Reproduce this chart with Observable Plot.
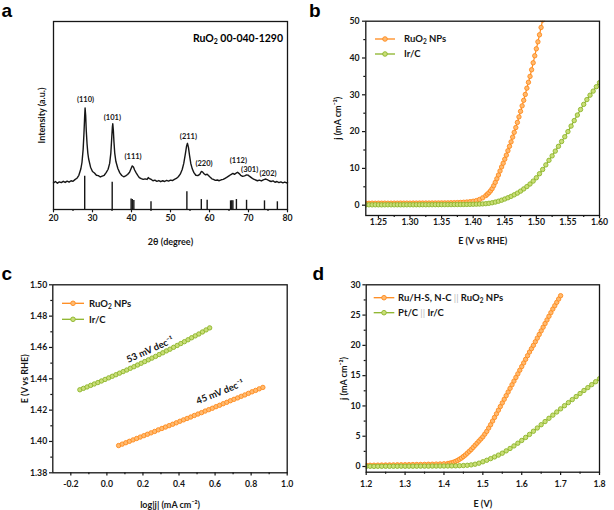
<!DOCTYPE html>
<html><head><meta charset="utf-8">
<script src="https://cdn.jsdelivr.net/npm/d3@7"></script>
<script src="https://cdn.jsdelivr.net/npm/@observablehq/plot@0.6"></script>
<style>
body{margin:0;background:#fff;}
#wrap{position:relative;width:614px;height:510px;font-family:Lato,"Open Sans",sans-serif;font-weight:bold;}
.panel{position:absolute;}
#overlay{position:absolute;left:0;top:0;pointer-events:none;}
</style></head><body>
<div id="wrap">
<div class="panel" id="pa" style="left:0;top:0"></div>
<div class="panel" id="pb" style="left:307px;top:0"></div>
<div class="panel" id="pc" style="left:0;top:255px"></div>
<div class="panel" id="pd" style="left:307px;top:255px"></div>
<svg id="overlay" width="614" height="510" font-family="Lato, 'Open Sans', sans-serif" font-weight="bold">
  <g font-family="'Liberation Sans', Arial, sans-serif" font-size="19" font-weight="bold">
    <text x="1.5" y="17.3">a</text>
    <text x="309" y="17.3">b</text>
    <text x="1.5" y="280">c</text>
    <text x="312.5" y="280">d</text>
  </g>
  <text x="283" y="41.5" text-anchor="end" font-size="10.5">RuO<tspan font-size="7" dy="2.5">2</tspan><tspan dy="-2.5"> 00-040-1290</tspan></text>
  <g id="legB"></g><g id="legC"></g><g id="legD"></g>
</svg>
</div>
<script>
// ---------- Panel a: XRD ----------
const xrd = [[20.0,14.2],[20.5,14.9],[21.0,14.0],[21.5,14.7],[22.0,14.3],[22.5,15.0],[23.0,14.4],[23.5,15.1],[24.0,14.6],[24.5,15.3],[25.0,15.0],[25.5,15.9],[26.0,16.6],[26.5,18.2],[27.0,21.5],[27.3,25],[27.6,32],[27.8,40],[28.0,50],[28.1,54],[28.25,50],[28.4,42],[28.6,35],[28.8,30],[29.0,27],[29.5,22.5],[30.0,20.2],[30.5,19.4],[31.0,18.2],[31.5,18.0],[32.0,17.3],[32.5,17.8],[33.0,18.2],[33.5,19.6],[34.0,21.4],[34.4,24.5],[34.7,30],[34.9,37],[35.1,44],[35.2,45.6],[35.35,42],[35.5,36],[35.7,30],[36.0,25.5],[36.5,21.8],[37.0,19.5],[37.5,18.1],[38.0,17.4],[38.5,17.9],[39.0,18.6],[39.5,19.8],[39.9,21.8],[40.2,23.2],[40.5,22.6],[40.8,21.0],[41.2,19.5],[41.6,18.2],[42.0,17.0],[42.5,16.4],[43.0,16.0],[43.5,16.3],[44.0,16.0],[44.3,17.0],[44.6,16.4],[45.0,16.1],[45.5,15.3],[46.0,15.6],[46.5,15.0],[47.0,15.4],[47.5,14.8],[48.0,15.3],[48.5,14.9],[49.0,15.5],[49.5,15.1],[50.0,15.6],[50.5,15.4],[51.0,16.0],[51.5,16.5],[52.0,17.4],[52.5,18.8],[53.0,21.3],[53.4,24.5],[53.8,29.5],[54.1,33.5],[54.35,35.2],[54.6,33],[54.9,28.5],[55.2,24.5],[55.6,21.5],[56.0,19.6],[56.5,18.2],[57.0,18.0],[57.5,18.7],[57.9,20.2],[58.2,20.0],[58.6,19.0],[59.0,18.4],[59.4,18.8],[59.8,18.0],[60.2,17.1],[60.6,16.3],[61.0,16.0],[61.5,15.5],[62.0,15.7],[62.5,15.3],[63.0,15.8],[63.5,16.0],[64.0,16.6],[64.5,17.2],[65.0,17.9],[65.5,18.6],[66.0,19.2],[66.4,18.7],[66.8,19.3],[67.2,19.8],[67.6,19.1],[68.0,18.2],[68.5,17.6],[69.0,17.9],[69.5,18.4],[69.9,18.3],[70.3,17.6],[70.8,16.8],[71.3,16.2],[71.8,15.7],[72.3,15.3],[72.8,15.6],[73.3,15.2],[73.8,15.8],[74.3,16.2],[74.8,15.9],[75.3,15.3],[75.8,14.9],[76.3,15.2],[76.8,14.5],[77.3,14.9],[77.8,14.3],[78.3,14.7],[78.8,14.2],[79.3,14.6],[79.8,14.1],[80.0,14.3]];
const refTheta = [28.0,35.05,39.9,40.2,40.6,45.0,54.2,57.9,59.4,65.4,65.7,66.0,66.9,69.5,74.1,77.4];
const refInt   = [17.7,14.5,5.6,5.3,4.8,4.1,9.4,5.3,4.9,4.6,4.6,4.6,5.3,4.9,4.6,4.1];
const peakHkl   = ["(110)","(101)","(111)","(211)","(220)","(112)","(301)","(202)"];
const peakTheta = [28.2,35.1,40.4,54.6,58.6,67.4,70.3,75.0];
const peakY     = [58.3,48.8,27.9,38.9,24.4,26.0,21.0,19.3];
const aTicksX = [20,30,40,50,60,70,80];
const aMinorX = [25,35,45,55,65,75];

// ---------- Panel b: LSV OER ----------
const bRuO2 = [[1.230,0.55],[1.235,0.52],[1.240,0.55],[1.245,0.53],[1.250,0.55],[1.255,0.54],[1.260,0.56],[1.265,0.54],[1.270,0.55],[1.275,0.56],[1.280,0.55],[1.285,0.57],[1.290,0.56],[1.295,0.57],[1.300,0.56],[1.305,0.58],[1.310,0.57],[1.315,0.58],[1.320,0.58],[1.325,0.59],[1.330,0.59],[1.335,0.60],[1.340,0.60],[1.345,0.61],[1.350,0.62],[1.355,0.63],[1.360,0.64],[1.365,0.66],[1.370,0.68],[1.375,0.71],[1.380,0.75],[1.385,0.80],[1.390,0.86],[1.395,0.95],[1.400,1.07],[1.405,1.25],[1.410,1.55],[1.415,2.00],[1.4200,2.6],[1.4225,3.0],[1.4250,3.4],[1.4275,3.9],[1.4300,4.5],[1.4325,5.3],[1.4350,6.2],[1.4375,7.2],[1.4400,8.2],[1.4425,9.3],[1.4450,10.4],[1.4475,11.4],[1.4500,12.5],[1.4525,13.6],[1.4550,14.8],[1.4575,16.0],[1.4600,17.2],[1.4625,18.5],[1.4650,19.8],[1.4675,21.1],[1.4700,22.5],[1.4725,24.0],[1.4750,25.5],[1.4775,27.0],[1.4800,28.5],[1.4825,30.1],[1.4850,31.8],[1.4875,33.4],[1.4900,35.0],[1.4925,36.8],[1.4950,38.7],[1.4975,40.6],[1.5000,42.5],[1.5025,44.4],[1.5050,46.3],[1.5075,48.3],[1.5100,50.3]];
const bIrC = [[1.230,0.08],[1.235,0.10],[1.240,0.09],[1.245,0.11],[1.250,0.10],[1.255,0.09],[1.260,0.10],[1.265,0.11],[1.270,0.10],[1.275,0.10],[1.280,0.11],[1.285,0.10],[1.290,0.11],[1.295,0.11],[1.300,0.12],[1.305,0.11],[1.310,0.12],[1.315,0.12],[1.320,0.13],[1.325,0.12],[1.330,0.13],[1.335,0.13],[1.340,0.14],[1.345,0.14],[1.350,0.15],[1.355,0.15],[1.360,0.16],[1.365,0.16],[1.370,0.17],[1.375,0.18],[1.380,0.19],[1.385,0.20],[1.390,0.21],[1.395,0.23],[1.400,0.25],[1.405,0.28],[1.410,0.31],[1.415,0.35],[1.420,0.42],[1.425,0.52],[1.430,0.66],[1.435,0.85],[1.440,1.08],[1.445,1.36],[1.450,1.68],[1.455,2.02],[1.460,2.40],[1.465,2.82],[1.470,3.28],[1.475,3.82],[1.480,4.42],[1.485,5.06],[1.490,5.76],[1.495,6.55],[1.500,7.45],[1.505,8.55],[1.510,9.70],[1.515,10.95],[1.520,12.20],[1.525,13.40],[1.530,14.70],[1.535,16.00],[1.540,17.30],[1.545,18.60],[1.550,20.00],[1.555,21.50],[1.560,23.00],[1.565,24.50],[1.570,26.00],[1.575,27.40],[1.580,28.70],[1.585,29.90],[1.590,31.00],[1.595,32.20],[1.600,33.30]];
const bTicksX = [1.25,1.30,1.35,1.40,1.45,1.50,1.55,1.60];
const bMinorX = [1.275,1.325,1.375,1.425,1.475,1.525,1.575];
const bTicksY = [0,10,20,30,40,50];
const bMinorY = [5,15,25,35,45];

// ---------- Panel c: Tafel ----------
const cRuO2 = [[0.065,1.3974],[0.085,1.3983],[0.105,1.3992],[0.125,1.4001],[0.145,1.4010],[0.165,1.4019],[0.185,1.4028],[0.205,1.4037],[0.225,1.4046],[0.245,1.4055],[0.265,1.4064],[0.285,1.4074],[0.305,1.4083],[0.325,1.4092],[0.345,1.4101],[0.365,1.4110],[0.385,1.4119],[0.405,1.4129],[0.425,1.4138],[0.445,1.4147],[0.465,1.4156],[0.485,1.4166],[0.505,1.4175],[0.525,1.4184],[0.545,1.4194],[0.565,1.4203],[0.585,1.4212],[0.605,1.4222],[0.625,1.4231],[0.645,1.4241],[0.665,1.4250],[0.685,1.4260],[0.705,1.4269],[0.725,1.4278],[0.745,1.4288],[0.765,1.4297],[0.785,1.4307],[0.805,1.4317],[0.825,1.4326],[0.845,1.4336],[0.865,1.4345]];
const cIrC = [[-0.15,1.4330],[-0.13,1.4339],[-0.11,1.4348],[-0.09,1.4358],[-0.07,1.4367],[-0.05,1.4376],[-0.03,1.4386],[-0.01,1.4396],[0.01,1.4406],[0.03,1.4416],[0.05,1.4426],[0.07,1.4436],[0.09,1.4446],[0.11,1.4456],[0.13,1.4467],[0.15,1.4477],[0.17,1.4488],[0.19,1.4499],[0.21,1.4510],[0.23,1.4521],[0.25,1.4532],[0.27,1.4543],[0.29,1.4555],[0.31,1.4566],[0.33,1.4578],[0.35,1.4589],[0.37,1.4601],[0.39,1.4613],[0.41,1.4625],[0.43,1.4637],[0.45,1.4649],[0.47,1.4662],[0.49,1.4674],[0.51,1.4686],[0.53,1.4699],[0.55,1.4712],[0.57,1.4725]];
const cSlopeText = ["53 mV dec⁻¹","45 mV dec⁻¹"];
const cSlopeX = [0.24,0.628];
const cSlopeY = [1.4585,1.4315];
const cTicksX = [-0.2,0.0,0.2,0.4,0.6,0.8,1.0];
const cMinorX = [-0.1,0.1,0.3,0.5,0.7,0.9];
const cTicksY = [1.38,1.40,1.42,1.44,1.46,1.48,1.50];
const cMinorY = [1.39,1.41,1.43,1.45,1.47,1.49];

// ---------- Panel d: overall water splitting ----------
const dRu = [[1.20,0.20],[1.21,0.21],[1.22,0.22],[1.23,0.23],[1.24,0.24],[1.25,0.25],[1.26,0.26],[1.27,0.27],[1.28,0.28],[1.29,0.29],[1.30,0.30],[1.31,0.31],[1.32,0.32],[1.33,0.33],[1.34,0.34],[1.35,0.35],[1.36,0.37],[1.37,0.38],[1.38,0.40],[1.39,0.42],[1.40,0.45],[1.41,0.50],[1.415,0.55],[1.42,0.62],[1.425,0.72],[1.43,0.85],[1.435,1.0],[1.44,1.2],[1.445,1.4],[1.45,1.65],[1.455,1.9],[1.46,2.2],[1.465,2.5],[1.47,2.8],[1.475,3.15],[1.48,3.5],[1.485,3.85],[1.49,4.2],[1.495,4.55],[1.50,4.9],[1.505,5.35],[1.51,5.8],[1.515,6.35],[1.52,6.9],[1.525,7.5],[1.53,8.1],[1.535,8.7],[1.54,9.3],[1.545,9.9],[1.55,10.5],[1.555,11.1],[1.56,11.7],[1.565,12.3],[1.57,12.9],[1.575,13.5],[1.58,14.1],[1.585,14.7],[1.59,15.3],[1.595,15.9],[1.60,16.5],[1.605,17.1],[1.61,17.7],[1.615,18.3],[1.62,18.9],[1.625,19.45],[1.63,20.0],[1.635,20.6],[1.64,21.2],[1.645,21.8],[1.65,22.4],[1.655,23.0],[1.66,23.6],[1.665,24.2],[1.67,24.8],[1.675,25.4],[1.68,26.0],[1.685,26.55],[1.69,27.1],[1.695,27.65],[1.70,28.2]];
const dPt = [[1.20,0.02],[1.21,0.03],[1.22,0.02],[1.23,0.03],[1.24,0.03],[1.25,0.04],[1.26,0.03],[1.27,0.04],[1.28,0.04],[1.29,0.05],[1.30,0.04],[1.31,0.05],[1.32,0.05],[1.33,0.05],[1.34,0.06],[1.35,0.06],[1.36,0.06],[1.37,0.07],[1.38,0.07],[1.39,0.08],[1.40,0.08],[1.41,0.09],[1.42,0.10],[1.43,0.11],[1.44,0.13],[1.45,0.16],[1.46,0.20],[1.47,0.27],[1.48,0.38],[1.49,0.55],[1.50,0.78],[1.51,1.03],[1.52,1.30],[1.53,1.58],[1.54,1.88],[1.55,2.20],[1.56,2.58],[1.57,2.98],[1.58,3.40],[1.59,3.85],[1.60,4.30],[1.61,4.80],[1.62,5.30],[1.63,5.82],[1.64,6.36],[1.65,6.90],[1.66,7.42],[1.67,7.96],[1.68,8.48],[1.69,9.00],[1.70,9.52],[1.71,10.04],[1.72,10.55],[1.73,11.05],[1.74,11.55],[1.75,12.05],[1.76,12.55],[1.77,13.03],[1.78,13.52],[1.79,14.00],[1.80,14.50]];
const dTicksX = [1.2,1.3,1.4,1.5,1.6,1.7,1.8];
const dMinorX = [1.25,1.35,1.45,1.55,1.65,1.75];
const dTicksY = [0,5,10,15,20,25,30];
const dMinorY = [2.5,7.5,12.5,17.5,22.5,27.5];

// ---------- styling ----------
const ORANGE = "#ff8a1c", ORANGE_FILL = "#ffba70";
const GREEN = "#8cb42a", GREEN_FILL = "#c9de78";
const INK = "#161616";
const STYLE = {fontFamily:"Lato, 'Open Sans', sans-serif", fontSize:"9px", fontWeight:"bold", color:INK, background:"transparent"};

function axes(o) {
  const m = [];
  m.push(Plot.axisX({ticks:o.xTicks, tickFormat:o.xFmt, tickSize:3.3, tickPadding:o.xPad, strokeWidth:1.2, fontSize:8.7,
    label:null}));
  m.push(Plot.axisX({ticks:[], label:o.xLabel, labelAnchor:"center", labelOffset:o.xOff, labelArrow:"none", fontSize:9}));
  if (o.xMinor) m.push(Plot.axisX({ticks:o.xMinor, tickFormat:() => "", tickSize:2, strokeWidth:1.2, label:null}));
  m.push(Plot.axisY({ticks:o.yTicks, tickFormat:o.yFmt, tickSize:3.3, tickPadding:o.yPad, strokeWidth:1.2, fontSize:8.7,
    label:null}));
  m.push(Plot.axisY({ticks:[], label:o.yLabel, labelAnchor:"center", labelOffset:o.yOff, labelArrow:"none", fontSize:9}));
  if (o.yMinor) m.push(Plot.axisY({ticks:o.yMinor, tickFormat:() => "", tickSize:2, strokeWidth:1.2, label:null}));
  m.push(Plot.frame({stroke:INK, strokeWidth:1.3}));
  return m;
}
function series(pairs, color, fill) {
  const d = pairs.map(([x, y]) => ({x, y}));
  return [
    Plot.line(d, {x:"x", y:"y", stroke:color, strokeWidth:1.2, clip:true}),
    Plot.dot(d, {x:"x", y:"y", r:2.2, stroke:color, fill:fill, strokeWidth:0.9, clip:true})
  ];
}

// Panel a
const xrdData = xrd.map(([t, i]) => ({t, i}));
const refData = refTheta.map((t, k) => ({t, h: refInt[k]}));
const peakData = peakHkl.map((s, k) => ({s, t: peakTheta[k], y: peakY[k]}));
document.getElementById("pa").append(Plot.plot({
  width:307, height:250, marginLeft:53, marginRight:20, marginTop:21, marginBottom:41,
  style:STYLE,
  x:{domain:[20,80]}, y:{domain:[0,100]},
  marks:[
    Plot.ruleX(refData, {x:"t", y1:0, y2:"h", stroke:INK, strokeWidth:1.4}),
    Plot.line(xrdData, {x:"t", y:"i", stroke:INK, strokeWidth:1.4}),
    Plot.text(peakData, {x:"t", y:"y", text:"s", fontSize:7.5, fontWeight:"bold", fill:INK}),
    ...axes({xTicks:aTicksX, xMinor:aMinorX, xFmt:d => String(d), xPad:2.5, xLabel:"2θ (degree)", xOff:35,
             yTicks:[], yPad:3, yLabel:"Intensity (a.u.)", yOff:15})
  ]
}));

// Panel b
document.getElementById("pb").append(Plot.plot({
  width:307, height:250, marginLeft:58.3, marginRight:15, marginTop:20.7, marginBottom:35,
  style:STYLE,
  x:{domain:[1.23,1.60]}, y:{domain:[-2.8,50]},
  marks:[
    ...series(bRuO2, ORANGE, ORANGE_FILL),
    ...series(bIrC, GREEN, GREEN_FILL),
    ...axes({xTicks:bTicksX, xMinor:bMinorX, xFmt:d => d.toFixed(2), xPad:0.5, xLabel:"E (V vs RHE)", xOff:28.5,
             yTicks:bTicksY, yMinor:bMinorY, yFmt:d => String(d), yPad:3, yLabel:"j (mA cm⁻²)", yOff:31})
  ]
}));

// Panel c
const cNotes = cSlopeText.map((s, k) => ({s, x:cSlopeX[k], y:cSlopeY[k]}));
document.getElementById("pc").append(Plot.plot({
  width:307, height:255, marginLeft:52.3, marginRight:20.3, marginTop:29.3, marginBottom:37.7,
  style:STYLE,
  x:{domain:[-0.3,1.0]}, y:{domain:[1.38,1.50]},
  marks:[
    ...series(cRuO2, ORANGE, ORANGE_FILL),
    ...series(cIrC, GREEN, GREEN_FILL),
    Plot.text([cNotes[0]], {x:"x", y:"y", text:"s", rotate:-24, fontSize:9.5, fill:INK}),
    Plot.text([cNotes[1]], {x:"x", y:"y", text:"s", rotate:-22, fontSize:9.5, fill:INK}),
    ...axes({xTicks:cTicksX, xMinor:cMinorX, xFmt:d => d.toFixed(1), xPad:4.5, xLabel:"log|j| (mA cm⁻²)", xOff:35.5,
             yTicks:cTicksY, yMinor:cMinorY, yFmt:d => d.toFixed(2), yPad:2.3, yLabel:"E (V vs RHE)", yOff:31})
  ]
}));

// Panel d
document.getElementById("pd").append(Plot.plot({
  width:307, height:255, marginLeft:58.7, marginRight:15, marginTop:29.3, marginBottom:38.3,
  style:STYLE,
  x:{domain:[1.2,1.8]}, y:{domain:[-0.94,30]},
  marks:[
    ...series(dRu, ORANGE, ORANGE_FILL),
    ...series(dPt, GREEN, GREEN_FILL),
    ...axes({xTicks:dTicksX, xMinor:dMinorX, xFmt:d => d.toFixed(1), xPad:5, xLabel:"E (V)", xOff:34.5,
             yTicks:dTicksY, yMinor:dMinorY, yFmt:d => String(d), yPad:2.3, yLabel:"j (mA cm⁻²)", yOff:26})
  ]
}));

// ---------- legends (overlay) ----------
const NS = "http://www.w3.org/2000/svg";
function legendItem(g, x0, x1, y, tx, color, fill, parts) {
  const line = document.createElementNS(NS, "line");
  line.setAttribute("x1", x0); line.setAttribute("x2", x1); line.setAttribute("y1", y); line.setAttribute("y2", y);
  line.setAttribute("stroke", color); line.setAttribute("stroke-width", 1.3);
  g.append(line);
  const c = document.createElementNS(NS, "circle");
  c.setAttribute("cx", (x0 + x1) / 2); c.setAttribute("cy", y); c.setAttribute("r", 2.3);
  c.setAttribute("stroke", color); c.setAttribute("fill", fill); c.setAttribute("stroke-width", 0.9);
  g.append(c);
  const t = document.createElementNS(NS, "text");
  t.setAttribute("x", tx); t.setAttribute("y", y + 3.3); t.setAttribute("font-size", 9.5); t.setAttribute("fill", INK);
  for (const p of parts) {
    const s = document.createElementNS(NS, "tspan");
    s.textContent = p.t;
    if (p.sub) { s.setAttribute("font-size", 6.5); s.setAttribute("dy", 2); }
    if (p.up) s.setAttribute("dy", -2);
    if (p.grey) { s.setAttribute("fill", "#b9b9b9"); s.setAttribute("font-weight", "normal"); }
    t.append(s);
  }
  g.append(t);
}
const legB = document.getElementById("legB");
legendItem(legB, 375, 395, 39, 404, ORANGE, ORANGE_FILL, [{t:"RuO"},{t:"2",sub:true},{t:" NPs",up:true}]);
legendItem(legB, 375, 395, 54, 404, GREEN, GREEN_FILL, [{t:"Ir/C"}]);
const legC = document.getElementById("legC");
legendItem(legC, 62, 84, 303.3, 89, ORANGE, ORANGE_FILL, [{t:"RuO"},{t:"2",sub:true},{t:" NPs",up:true}]);
legendItem(legC, 62, 84, 319.3, 89, GREEN, GREEN_FILL, [{t:"Ir/C"}]);
const legD = document.getElementById("legD");
legendItem(legD, 373.7, 394.3, 297.7, 398, ORANGE, ORANGE_FILL, [{t:"Ru/H-S, N-C "},{t:"||",grey:true},{t:" RuO"},{t:"2",sub:true},{t:" NPs",up:true}]);
legendItem(legD, 373.7, 394.3, 312.7, 398, GREEN, GREEN_FILL, [{t:"Pt/C "},{t:"||",grey:true},{t:"  Ir/C"}]);
</script>
</body></html>
